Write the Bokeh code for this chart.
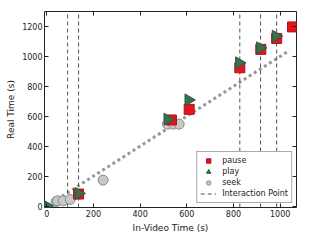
import math
from bokeh.plotting import figure
from bokeh.models import LinearAxis, Legend, LegendItem, FixedTicker, CustomJSTickFormatter
from bokeh.embed import file_html
from bokeh.resources import INLINE

# ---- data ----
pause_x = [136, 534, 610, 827, 917, 985, 1053]
pause_y = [80, 575, 646, 924, 1047, 1120, 1197]
play_x = [0, 136, 517, 607, 824, 914, 981]
play_y = [0, 84, 580, 709, 957, 1057, 1135]
seek_x = [40, 46, 70, 100, 241, 517, 543, 567]
seek_y = [30, 35, 35, 44, 173, 547, 547, 547]
interaction_x = [89, 136, 827, 916, 985]
diag_x = [0, 1040]
diag_y = [0, 1040]
x_ticks = [0, 200, 400, 600, 800, 1000]
y_ticks = [0, 200, 400, 600, 800, 1000, 1200]
X_LO, X_HI = -10, 1070
Y_LO, Y_HI = -10, 1300

FONT = "DejaVu Sans"

p = figure(width=312, height=240, output_backend="svg", toolbar_location=None,
           x_range=(X_LO, X_HI), y_range=(Y_LO, Y_HI),
           min_border_left=44, min_border_right=16, min_border_top=11, min_border_bottom=33,
           x_axis_label="In-Video Time (s)", y_axis_label="Real Time (s)")
p.grid.visible = False
p.outline_line_color = "#222222"
p.outline_line_width = 1
p.background_fill_color = "white"
p.border_fill_color = "white"

for ax in (p.xaxis[0], p.yaxis[0]):
    ax.axis_line_color = None
    ax.major_tick_in = 4
    ax.major_tick_out = 0
    ax.minor_tick_line_color = None
    ax.major_tick_line_color = "#222222"
    ax.major_label_text_font = FONT
    ax.major_label_text_font_size = "8px"
    ax.major_label_text_color = "#222222"
    ax.axis_label_text_font = FONT
    ax.axis_label_text_font_size = "9px"
    ax.axis_label_text_font_style = "normal"
    ax.axis_label_text_color = "#222222"
    ax.major_label_standoff = 2
    ax.axis_label_standoff = 3
p.xaxis[0].ticker = FixedTicker(ticks=x_ticks)
p.yaxis[0].ticker = FixedTicker(ticks=y_ticks)

blank = CustomJSTickFormatter(code="return ''")
top = LinearAxis(ticker=FixedTicker(ticks=x_ticks), axis_line_color=None,
                 major_tick_in=4, major_tick_out=0, minor_tick_line_color=None,
                 major_tick_line_color="#222222", formatter=blank, major_label_standoff=0)
right = LinearAxis(ticker=FixedTicker(ticks=y_ticks), axis_line_color=None,
                   major_tick_in=4, major_tick_out=0, minor_tick_line_color=None,
                   major_tick_line_color="#222222", formatter=blank, major_label_standoff=0)
p.add_layout(top, "above")
p.add_layout(right, "right")

# diagonal reference line
p.line(diag_x, diag_y, line_color="#999999", line_width=3, line_dash="3 3")

# vertical interaction lines
vl = p.segment(x0=interaction_x, y0=[Y_LO] * len(interaction_x),
               x1=interaction_x, y1=[Y_HI] * len(interaction_x),
               line_color="#555555", line_width=1, line_dash="4 3")

sk = p.scatter(seek_x, seek_y, marker="circle", size=10, fill_color="#c8c8c8",
               line_color="#8a8a8a", line_width=1)
pa = p.scatter(pause_x, pause_y, marker="square", size=10, fill_color="#e8141c",
               line_color="#b01018", line_width=1)
pl = p.scatter(play_x, play_y, marker="triangle", size=12, angle=-math.pi / 2,
               fill_color="#3c6e4e", line_color="#2c5a3c", line_width=1)

legend = Legend(items=[LegendItem(label="pause", renderers=[pa]),
                       LegendItem(label="play", renderers=[pl]),
                       LegendItem(label="seek", renderers=[sk]),
                       LegendItem(label="Interaction Point", renderers=[vl])],
                location="bottom_right", margin=4, padding=3, spacing=0,
                glyph_width=16, glyph_height=11, label_height=11, label_standoff=6,
                label_text_font=FONT, label_text_font_size="8px",
                label_text_color="#222222", border_line_color="#555555",
                border_line_width=1, background_fill_alpha=1)
p.add_layout(legend, "center")

open("out.html", "w").write(file_html(p, INLINE))
